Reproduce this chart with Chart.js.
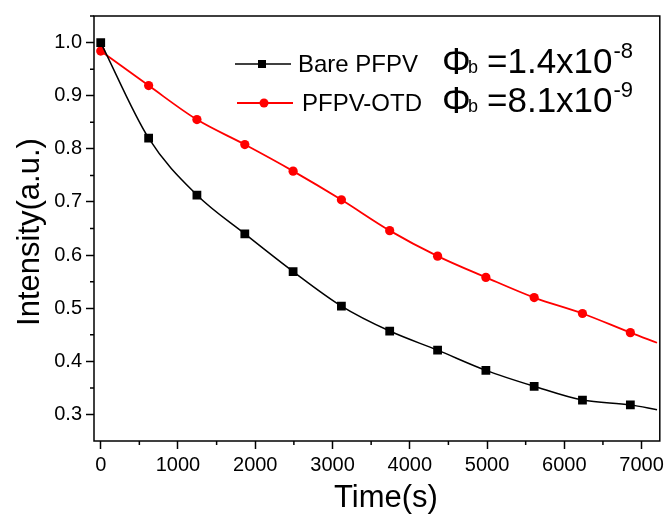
<!DOCTYPE html>
<html>
<head>
<meta charset="utf-8">
<script src="https://cdn.jsdelivr.net/npm/chart.js@4.4.1/dist/chart.umd.min.js"></script>
<style>
  html, body { margin: 0; padding: 0; background: #fff; }
  #wrap { width: 666px; height: 517px; position: relative; }
</style>
</head>
<body>
<div id="wrap"><canvas id="chart" width="666" height="517"></canvas></div>
<script>
// ---- data ----
const timeMarks   = [0, 620, 1245, 1865, 2490, 3115, 3740, 4360, 4985, 5610, 6235, 6855, 7200];
const bareValues  = [1.000, 0.820, 0.713, 0.640, 0.569, 0.504, 0.457, 0.421, 0.383, 0.353, 0.327, 0.318, 0.309];
const otdValues   = [0.984, 0.919, 0.855, 0.808, 0.758, 0.704, 0.646, 0.598, 0.558, 0.520, 0.490, 0.454, 0.435];
// last entry of each series is the end of the fitted line, no marker there
const xMajorTicks = [0, 1000, 2000, 3000, 4000, 5000, 6000, 7000];
const xMinorTicks = [500, 1500, 2500, 3500, 4500, 5500, 6500];
const yMajorTicks = [0.3, 0.4, 0.5, 0.6, 0.7, 0.8, 0.9, 1.0];
const yMinorTicks = [0.35, 0.45, 0.55, 0.65, 0.75, 0.85, 0.95, 1.05];

const seriesNames = ['Bare PFPV', 'PFPV-OTD'];
const phiValues   = [['1.4x10', '-8'], ['8.1x10', '-9']];

const tickFont = { family: "'Liberation Sans Narrow', 'Arial Narrow', 'Liberation Sans', Arial", size: 20 };
const lastIdx = timeMarks.length - 1;

function pts(vals) { return timeMarks.map((t, i) => ({ x: t, y: vals[i] })); }

// frame, minor ticks, titles and the legend block
const decor = {
  id: 'decor',
  afterDraw(chart) {
    const { ctx, chartArea: a, scales: { x, y } } = chart;
    ctx.save();
    ctx.strokeStyle = '#000';
    ctx.lineWidth = 1.5;
    ctx.strokeRect(a.left, a.top, a.right - a.left, a.bottom - a.top);

    // minor ticks, outward
    ctx.beginPath();
    xMinorTicks.forEach(v => { const px = x.getPixelForValue(v); ctx.moveTo(px, a.bottom); ctx.lineTo(px, a.bottom + 4); });
    yMinorTicks.forEach(v => { const py = y.getPixelForValue(v); ctx.moveTo(a.left, py); ctx.lineTo(a.left - 4, py); });
    ctx.stroke();

    // axis titles
    ctx.fillStyle = '#000';
    ctx.font = "31px 'Liberation Sans', Arial";
    ctx.textAlign = 'center';
    ctx.textBaseline = 'middle';
    ctx.fillText('Time(s)', 386, 498);
    ctx.save();
    ctx.translate(30, 232);
    ctx.rotate(-Math.PI / 2);
    ctx.fillText('Intensity(a.u.)', 0, 0);
    ctx.restore();

    // legend
    const rows = [
      { y: 64,  color: '#000', lw: 1.5, sample: 235, mark: 262, text: 298, square: true },
      { y: 103, color: '#ff0000', lw: 1.8, sample: 237, mark: 264, text: 302, square: false }
    ];
    rows.forEach((r, i) => {
      ctx.strokeStyle = r.color; ctx.fillStyle = r.color; ctx.lineWidth = r.lw;
      ctx.beginPath(); ctx.moveTo(r.sample, r.y); ctx.lineTo(r.sample + 56, r.y); ctx.stroke();
      if (r.square) ctx.fillRect(r.mark - 4, r.y - 4, 8, 8);
      else { ctx.beginPath(); ctx.arc(r.mark, r.y, 4.5, 0, Math.PI * 2); ctx.fill(); }
      ctx.fillStyle = '#000';
      ctx.textAlign = 'left';
      ctx.textBaseline = 'alphabetic';
      ctx.font = "24px 'Liberation Sans', Arial";
      ctx.fillText(seriesNames[i], r.text, r.y + 8);

      const base = r.y + 9;
      ctx.font = "36px 'Liberation Sans', Arial";
      ctx.fillText('Φ', 442, base + 1);
      ctx.font = "18px 'Liberation Sans', Arial";
      ctx.fillText('b', 468, base);
      ctx.font = "35px 'Liberation Sans', Arial";
      const main = '=' + phiValues[i][0];
      ctx.fillText(main, 487, base);
      const w = ctx.measureText(main).width;
      ctx.font = "22px 'Liberation Sans', Arial";
      ctx.fillText(phiValues[i][1], 487 + w + 1, base - 15);
    });
    ctx.restore();
  }
};

new Chart(document.getElementById('chart'), {
  type: 'line',
  data: {
    datasets: [
      {
        label: seriesNames[0],
        data: pts(bareValues),
        borderColor: '#000', backgroundColor: '#000', borderWidth: 1.5,
        pointStyle: 'rect', pointRadius: ctx => ctx.dataIndex === lastIdx ? 0 : 6.2,
        pointBorderWidth: 0, cubicInterpolationMode: 'monotone'
      },
      {
        label: seriesNames[1],
        data: pts(otdValues),
        borderColor: '#ff0000', backgroundColor: '#ff0000', borderWidth: 1.8,
        pointStyle: 'circle', pointRadius: ctx => ctx.dataIndex === lastIdx ? 0 : 4.6,
        pointBorderWidth: 0, cubicInterpolationMode: 'monotone'
      }
    ]
  },
  options: {
    responsive: false,
    animation: false,
    events: [],
    layout: { padding: { top: 12, right: 5, left: 0, bottom: 0 } },
    plugins: { legend: { display: false }, tooltip: { enabled: false } },
    scales: {
      x: {
        type: 'linear', min: -87, max: 7236,
        afterBuildTicks: s => { s.ticks = xMajorTicks.map(v => ({ value: v })); },
        afterFit: s => { s.height = 76; s.paddingRight = 0; s.paddingLeft = 0; },
        border: { display: false },
        grid: { drawOnChartArea: false, tickLength: 8, tickWidth: 1.5, tickColor: '#000' },
        ticks: { color: '#000', font: tickFont, padding: 4, maxRotation: 0, callback: v => String(v) }
      },
      y: {
        type: 'linear', min: 0.25, max: 1.05,
        afterBuildTicks: s => { s.ticks = yMajorTicks.map(v => ({ value: v })); },
        afterFit: s => { s.width = 94; },
        border: { display: false },
        grid: { drawOnChartArea: false, tickLength: 8, tickWidth: 1.5, tickColor: '#000' },
        ticks: { color: '#000', font: tickFont, padding: 4, callback: v => v.toFixed(1) }
      }
    }
  },
  plugins: [decor]
});
</script>
</body>
</html>
